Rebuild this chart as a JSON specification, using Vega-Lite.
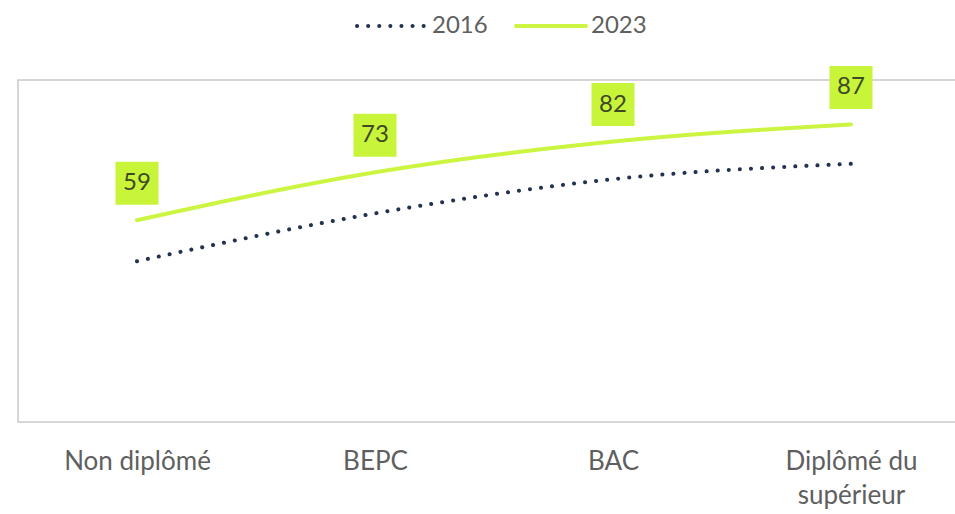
{
  "$schema": "https://vega.github.io/schema/vega-lite/v6.json",
  "autosize": {"type": "none"},
  "width": 952,
  "height": 342,
  "padding": {"left": 18, "top": 80, "right": 0, "bottom": 92},
  "background": "white",
  "config": {
    "font": "Lato",
    "view": {"stroke": "#c9c9c9", "strokeWidth": 1.5}
  },
  "data": {
    "values": [
      {"diplome": "Non diplômé", "annee": "2016", "valeur": 47},
      {"diplome": "BEPC", "annee": "2016", "valeur": 61},
      {"diplome": "BAC", "annee": "2016", "valeur": 71},
      {"diplome": "Diplômé du supérieur", "annee": "2016", "valeur": 75.5},
      {"diplome": "Non diplômé", "annee": "2023", "valeur": 59},
      {"diplome": "BEPC", "annee": "2023", "valeur": 73},
      {"diplome": "BAC", "annee": "2023", "valeur": 82},
      {"diplome": "Diplômé du supérieur", "annee": "2023", "valeur": 87}
    ]
  },
  "encoding": {
    "x": {
      "field": "diplome",
      "type": "nominal",
      "sort": null,
      "scale": {"type": "point", "padding": 0.5},
      "axis": {
        "title": null,
        "domain": false,
        "ticks": false,
        "labelAngle": 0,
        "labelFontSize": 26,
        "labelColor": "#5f5f5f",
        "labelPadding": 26,
        "labelLineHeight": 34,
        "labelExpr": "datum.value == 'Diplômé du supérieur' ? ['Diplômé du', 'supérieur'] : datum.value"
      }
    },
    "y": {
      "field": "valeur",
      "type": "quantitative",
      "scale": {"domain": [0, 100]},
      "axis": null
    }
  },
  "layer": [
    {
      "mark": {"type": "line", "interpolate": "monotone", "strokeCap": "round", "strokeWidth": 4},
      "encoding": {
        "color": {
          "field": "annee",
          "type": "nominal",
          "scale": {"domain": ["2016", "2023"], "range": ["#22324f", "#ccf542"]},
          "legend": {
            "title": null,
            "orient": "none",
            "direction": "horizontal",
            "legendX": 337,
            "legendY": -91,
            "symbolType": "stroke",
            "symbolSize": 4900,
            "symbolStrokeWidth": 4,
            "labelFontSize": 24,
            "labelColor": "#5f5f5f",
            "labelOffset": 3,
            "columnPadding": 20,
            "encode": {"symbols": {"update": {"strokeCap": {"value": "round"}}}}
          }
        },
        "strokeDash": {
          "field": "annee",
          "type": "nominal",
          "scale": {"domain": ["2016", "2023"], "range": [[0.1, 11], [1, 0]]},
          "legend": null
        }
      }
    },
    {
      "transform": [{"filter": "datum.annee == '2023'"}],
      "mark": {"type": "point", "shape": "square", "filled": true, "size": 1850, "opacity": 1, "color": "#c8f53a", "yOffset": -37}
    },
    {
      "transform": [{"filter": "datum.annee == '2023'"}],
      "mark": {"type": "text", "fontSize": 24, "color": "#3e4a25", "yOffset": -37, "baseline": "middle"},
      "encoding": {"text": {"field": "valeur", "type": "quantitative"}}
    }
  ]
}
